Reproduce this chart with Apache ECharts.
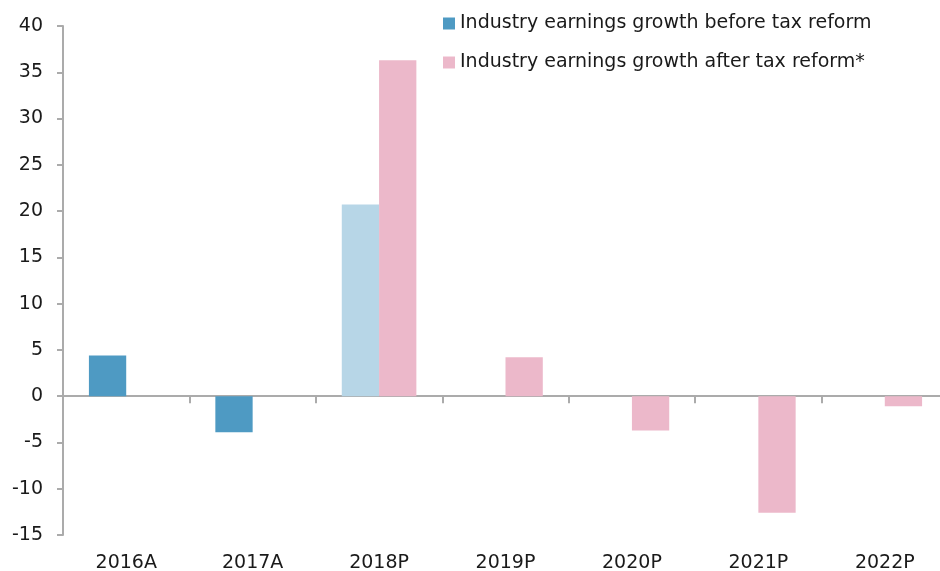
<!DOCTYPE html>
<html>
<head>
<meta charset="utf-8">
<script src="https://cdn.jsdelivr.net/npm/echarts@6/dist/echarts.min.js"></script>
<style>
  html, body { margin: 0; padding: 0; background: #fff; }
  #main { width: 940px; height: 571px; }
</style>
</head>
<body>
<div id="main"></div>
<script>
var years = ["2016A", "2017A", "2018P", "2019P", "2020P", "2021P", "2022P"];
var beforeReform = [4.4, -3.9, 20.7, null, null, null, null];
var afterReform = [null, null, 36.3, 4.2, -3.7, -12.6, -1.1];
var seriesNames = ["Industry earnings growth before tax reform", "Industry earnings growth after tax reform*"];
var yTicks = { min: -15, max: 40, step: 5 };

var blue = "#4e9ac3";
var lightBlue = "#b7d6e7";
var pink = "#ecb8ca";
var axisGrey = "#ababab";
var font = "DejaVu Sans";

// 2018P "before" bar is drawn lighter in the original
var beforeData = beforeReform.map(function (v, i) {
  if (years[i] == "2018P") {
    return { value: v, itemStyle: { color: lightBlue } };
  }
  return v;
});

var chartDom = document.getElementById("main");
var myChart = echarts.init(chartDom);
var option = {
  animation: false,
  textStyle: { fontFamily: font },
  grid: { left: 63, top: 26, bottom: 36, right: -8, outerBoundsMode: "none", containLabel: false },
  legend: {
    orient: "vertical",
    left: 443,
    top: 14,
    padding: 0,
    itemWidth: 12,
    itemHeight: 12,
    itemGap: 20,
    icon: "rect",
    textStyle: { fontSize: 19, color: "#1a1a1a", fontFamily: font },
    data: seriesNames,
  },
  xAxis: [
    {
      type: "category",
      data: years,
      position: "bottom",
      axisLine: { onZero: false, show: false },
      axisTick: { show: false },
      axisLabel: { fontSize: 19, color: "#1a1a1a", margin: 19 },
    },
    {
      type: "category",
      data: years,
      position: "bottom",
      axisLine: { onZero: true, lineStyle: { color: axisGrey, width: 2 } },
      axisTick: { show: true, length: 7, lineStyle: { color: axisGrey, width: 2 } },
      axisLabel: { show: false },
    },
  ],
  yAxis: {
    type: "value",
    min: yTicks.min,
    max: yTicks.max,
    interval: yTicks.step,
    splitLine: { show: false },
    axisLine: { show: true, lineStyle: { color: axisGrey, width: 2 } },
    axisTick: { show: true, length: 6, lineStyle: { color: axisGrey, width: 2 } },
    axisLabel: { fontSize: 19, color: "#1a1a1a", margin: 20 },
  },
  series: [
    {
      name: seriesNames[0],
      type: "bar",
      xAxisIndex: 0,
      data: beforeData,
      barGap: "0%",
      barCategoryGap: "41%",
      itemStyle: { color: blue },
    },
    {
      name: seriesNames[1],
      type: "bar",
      xAxisIndex: 0,
      data: afterReform,
      itemStyle: { color: pink },
    },
  ],
};
option && myChart.setOption(option);
</script>
</body>
</html>
